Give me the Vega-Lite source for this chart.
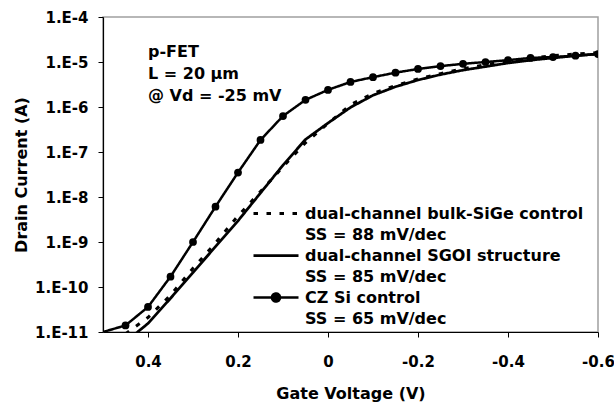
{
  "$schema": "https://vega.github.io/schema/vega-lite/v6.json",
  "width": 495,
  "height": 315,
  "autosize": {"type": "none"},
  "padding": {"left": 103, "top": 17, "right": 16, "bottom": 72},
  "background": "white",
  "config": {
    "font": "DejaVu Sans",
    "view": {"stroke": "#a0a0a0", "strokeWidth": 1.5},
    "axis": {
      "domainColor": "#000000",
      "domainWidth": 1.2,
      "tickColor": "#000000",
      "tickSize": 5,
      "grid": false,
      "labelFont": "DejaVu Sans",
      "labelFontWeight": "bold",
      "labelFontSize": 15,
      "labelColor": "#000000",
      "titleFont": "DejaVu Sans",
      "titleFontWeight": "bold",
      "titleFontSize": 16,
      "titleColor": "#000000",
      "labelFlush": false,
      "labelOverlap": false
    }
  },
  "data": {
    "values": [
      {"V": 0.50, "I": 1.0e-11, "series": "CZ Si control"},
      {"V": 0.45, "I": 1.4e-11, "series": "CZ Si control"},
      {"V": 0.40, "I": 3.6e-11, "series": "CZ Si control"},
      {"V": 0.35, "I": 1.7e-10, "series": "CZ Si control"},
      {"V": 0.30, "I": 1.0e-9, "series": "CZ Si control"},
      {"V": 0.25, "I": 6.1e-9, "series": "CZ Si control"},
      {"V": 0.20, "I": 3.5e-8, "series": "CZ Si control"},
      {"V": 0.15, "I": 1.85e-7, "series": "CZ Si control"},
      {"V": 0.10, "I": 6.3e-7, "series": "CZ Si control"},
      {"V": 0.05, "I": 1.44e-6, "series": "CZ Si control"},
      {"V": 0.00, "I": 2.4e-6, "series": "CZ Si control"},
      {"V": -0.05, "I": 3.6e-6, "series": "CZ Si control"},
      {"V": -0.10, "I": 4.6e-6, "series": "CZ Si control"},
      {"V": -0.15, "I": 5.8e-6, "series": "CZ Si control"},
      {"V": -0.20, "I": 7.0e-6, "series": "CZ Si control"},
      {"V": -0.25, "I": 8.1e-6, "series": "CZ Si control"},
      {"V": -0.30, "I": 9.1e-6, "series": "CZ Si control"},
      {"V": -0.35, "I": 1.0e-5, "series": "CZ Si control"},
      {"V": -0.40, "I": 1.1e-5, "series": "CZ Si control"},
      {"V": -0.45, "I": 1.23e-5, "series": "CZ Si control"},
      {"V": -0.50, "I": 1.29e-5, "series": "CZ Si control"},
      {"V": -0.55, "I": 1.38e-5, "series": "CZ Si control"},
      {"V": -0.60, "I": 1.5e-5, "series": "CZ Si control"},

      {"V": 0.45, "I": 6.0e-12, "series": "dual-channel SGOI structure"},
      {"V": 0.40, "I": 1.55e-11, "series": "dual-channel SGOI structure"},
      {"V": 0.35, "I": 5.6e-11, "series": "dual-channel SGOI structure"},
      {"V": 0.30, "I": 2.1e-10, "series": "dual-channel SGOI structure"},
      {"V": 0.25, "I": 7.9e-10, "series": "dual-channel SGOI structure"},
      {"V": 0.20, "I": 2.95e-9, "series": "dual-channel SGOI structure"},
      {"V": 0.15, "I": 1.23e-8, "series": "dual-channel SGOI structure"},
      {"V": 0.10, "I": 5.1e-8, "series": "dual-channel SGOI structure"},
      {"V": 0.05, "I": 1.9e-7, "series": "dual-channel SGOI structure"},
      {"V": 0.00, "I": 4.4e-7, "series": "dual-channel SGOI structure"},
      {"V": -0.05, "I": 9.8e-7, "series": "dual-channel SGOI structure"},
      {"V": -0.10, "I": 1.82e-6, "series": "dual-channel SGOI structure"},
      {"V": -0.15, "I": 2.82e-6, "series": "dual-channel SGOI structure"},
      {"V": -0.20, "I": 3.98e-6, "series": "dual-channel SGOI structure"},
      {"V": -0.25, "I": 5.25e-6, "series": "dual-channel SGOI structure"},
      {"V": -0.30, "I": 6.6e-6, "series": "dual-channel SGOI structure"},
      {"V": -0.35, "I": 7.9e-6, "series": "dual-channel SGOI structure"},
      {"V": -0.40, "I": 9.5e-6, "series": "dual-channel SGOI structure"},
      {"V": -0.45, "I": 1.1e-5, "series": "dual-channel SGOI structure"},
      {"V": -0.50, "I": 1.23e-5, "series": "dual-channel SGOI structure"},
      {"V": -0.55, "I": 1.38e-5, "series": "dual-channel SGOI structure"},
      {"V": -0.60, "I": 1.51e-5, "series": "dual-channel SGOI structure"},

      {"V": 0.45, "I": 9.1e-12, "series": "dual-channel bulk-SiGe control"},
      {"V": 0.40, "I": 2.1e-11, "series": "dual-channel bulk-SiGe control"},
      {"V": 0.35, "I": 6.6e-11, "series": "dual-channel bulk-SiGe control"},
      {"V": 0.30, "I": 2.6e-10, "series": "dual-channel bulk-SiGe control"},
      {"V": 0.25, "I": 9.5e-10, "series": "dual-channel bulk-SiGe control"},
      {"V": 0.20, "I": 3.8e-9, "series": "dual-channel bulk-SiGe control"},
      {"V": 0.15, "I": 1.32e-8, "series": "dual-channel bulk-SiGe control"},
      {"V": 0.10, "I": 4.7e-8, "series": "dual-channel bulk-SiGe control"},
      {"V": 0.05, "I": 1.6e-7, "series": "dual-channel bulk-SiGe control"},
      {"V": 0.00, "I": 4.3e-7, "series": "dual-channel bulk-SiGe control"},
      {"V": -0.05, "I": 1.12e-6, "series": "dual-channel bulk-SiGe control"},
      {"V": -0.10, "I": 2.0e-6, "series": "dual-channel bulk-SiGe control"},
      {"V": -0.15, "I": 3.0e-6, "series": "dual-channel bulk-SiGe control"},
      {"V": -0.20, "I": 4.2e-6, "series": "dual-channel bulk-SiGe control"},
      {"V": -0.25, "I": 5.5e-6, "series": "dual-channel bulk-SiGe control"},
      {"V": -0.30, "I": 7.1e-6, "series": "dual-channel bulk-SiGe control"},
      {"V": -0.35, "I": 8.7e-6, "series": "dual-channel bulk-SiGe control"},
      {"V": -0.40, "I": 1.05e-5, "series": "dual-channel bulk-SiGe control"},
      {"V": -0.45, "I": 1.2e-5, "series": "dual-channel bulk-SiGe control"},
      {"V": -0.50, "I": 1.38e-5, "series": "dual-channel bulk-SiGe control"},
      {"V": -0.55, "I": 1.5e-5, "series": "dual-channel bulk-SiGe control"},
      {"V": -0.60, "I": 1.62e-5, "series": "dual-channel bulk-SiGe control"}
    ]
  },
  "layer": [
    {
      "mark": {"type": "line", "clip": true, "color": "black", "strokeCap": "butt"},
      "encoding": {
        "x": {
          "field": "V", "type": "quantitative",
          "scale": {"domain": [-0.6, 0.5], "reverse": true, "nice": false, "zero": false},
          "axis": {
            "title": "Gate Voltage  (V)",
            "values": [0.4, 0.2, 0, -0.2, -0.4, -0.6],
            "labelExpr": "'' + datum.value",
            "labelPadding": 17,
            "titlePadding": 16
          }
        },
        "y": {
          "field": "I", "type": "quantitative",
          "scale": {"type": "log", "domain": [1e-11, 1e-4], "nice": false},
          "axis": {
            "title": "Drain Current  (A)",
            "values": [1e-11, 1e-10, 1e-9, 1e-8, 1e-7, 1e-6, 1e-5, 1e-4],
            "labelExpr": "'1.E' + round(log(datum.value) / LN10)",
            "labelPadding": 10,
            "titlePadding": 5
          }
        },
        "detail": {"field": "series"},
        "strokeDash": {
          "field": "series", "type": "nominal",
          "scale": {
            "domain": ["dual-channel bulk-SiGe control", "dual-channel SGOI structure", "CZ Si control"],
            "range": [[4.5, 8.5], [1, 0], [1, 0]]
          },
          "legend": {
            "orient": "none",
            "legendX": 149,
            "legendY": 186,
            "title": null,
            "padding": 0,
            "offset": 0,
            "rowPadding": 2,
            "symbolType": "stroke",
            "symbolSize": 2025,
            "symbolStrokeColor": "black",
            "labelFont": "DejaVu Sans",
            "labelFontWeight": "bold",
            "labelFontSize": 16,
            "labelColor": "black",
            "labelOffset": 5,
            "labelLimit": 400,
            "labelExpr": "[datum.label, datum.label == 'CZ Si control' ? 'SS = 65 mV/dec' : datum.label == 'dual-channel SGOI structure' ? 'SS = 85 mV/dec' : 'SS = 88 mV/dec']",
            "encode": {
              "symbols": {
                "update": {
                  "y": {"value": 10.5},
                  "shape": {"signal": "datum.value == 'CZ Si control' ? 'M-1,0H1M0.18,0A0.18,0.18,0,1,1,-0.18,0A0.18,0.18,0,1,1,0.18,0Z' : 'stroke'"},
                  "fill": {"signal": "datum.value == 'CZ Si control' ? 'black' : 'transparent'"},
                  "stroke": {"value": "black"},
                  "strokeWidth": {"signal": "datum.value == 'CZ Si control' ? 1 : datum.value == 'dual-channel SGOI structure' ? 2 : 3"}
                }
              },
              "labels": {
                "update": {
                  "y": {"value": 10.5},
                  "baseline": {"value": "middle"},
                  "lineHeight": {"value": 21}
                }
              }
            }
          }
        },
        "strokeWidth": {
          "field": "series", "type": "nominal",
          "scale": {
            "domain": ["dual-channel bulk-SiGe control", "dual-channel SGOI structure", "CZ Si control"],
            "range": [3, 2.5, 1]
          },
          "legend": null
        }
      }
    },
    {
      "transform": [
        {"filter": "datum.series == 'CZ Si control' && datum.V < 0.49"}
      ],
      "mark": {"type": "point", "shape": "circle", "filled": true, "color": "black", "size": 60, "opacity": 1, "clip": true},
      "encoding": {
        "x": {"field": "V", "type": "quantitative"},
        "y": {"field": "I", "type": "quantitative"}
      }
    },
    {
      "data": {"values": [{"note": "p-FET"}]},
      "mark": {
        "type": "text",
        "text": ["p-FET", "L = 20 μm", "@ Vd = -25 mV"],
        "align": "left",
        "baseline": "top",
        "lineHeight": 22,
        "font": "DejaVu Sans",
        "fontWeight": "bold",
        "fontSize": 16,
        "color": "black"
      },
      "encoding": {
        "x": {"datum": 0.4},
        "y": {"datum": 2.5e-5}
      }
    }
  ]
}
